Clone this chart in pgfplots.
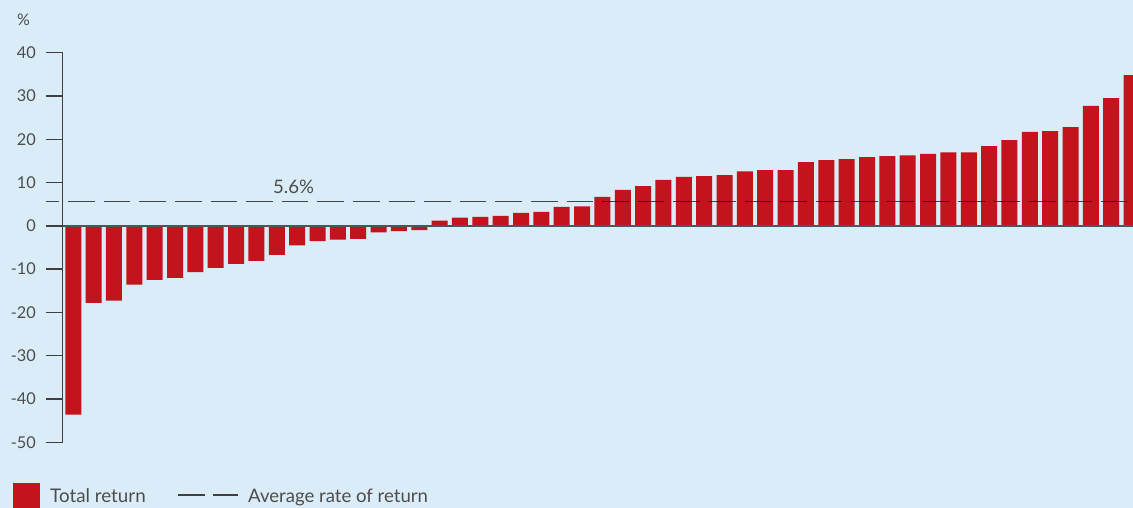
\documentclass[border=0pt]{standalone}
\usepackage{pgfplots}
\pgfplotsset{compat=1.18}
\usepackage{fontspec}
\setmainfont{Lato}
\definecolor{bg}{HTML}{D9ECF7}
\definecolor{barred}{HTML}{C3131C}
\definecolor{axgray}{HTML}{3F3F3F}
\definecolor{zerogray}{HTML}{4E555B}
\definecolor{txt}{HTML}{4D4D4D}
\begin{document}
\begin{tikzpicture}
\fill[bg] (0pt,0pt) rectangle (1133pt,508pt);
\begin{axis}[
 at={(62.7pt,65.7pt)}, anchor=south west,
 scale only axis, width=1070.3pt, height=389.6pt,
 xmin=-0.52, xmax=52.07, ymin=-50, ymax=40,
 axis x line=none,
 axis y line*=left,
 y axis line style={-, draw=axgray, line width=1.4pt},
 ytick={-50,-40,-30,-20,-10,0,10,20,30,40},
 yticklabels={-50,-40,-30,-20,-10,0,10,20,30,40},
 major tick length=16.7pt,
 tick align=outside,
 ytick style={draw=axgray, line width=1.4pt},
 yticklabel style={font=\fontsize{16.3}{16.3}\selectfont, text=txt, inner sep=0pt, xshift=-10pt},
 extra y ticks={5.6},
 extra y tick labels={},
 extra y tick style={ytick style={draw=black, draw opacity=0.7, line width=1.5pt, dash pattern=on 13.3pt off 3.4pt}},
]
\addplot[ybar, bar width=16pt, bar shift=0pt, fill=barred, draw=none] coordinates {
(0,-43.6) (1,-17.8) (2,-17.3) (3,-13.6) (4,-12.5) (5,-12.0) (6,-10.7) (7,-9.7) (8,-8.8) (9,-8.1)
(10,-6.7) (11,-4.5) (12,-3.5) (13,-3.2) (14,-3.0) (15,-1.5) (16,-1.2) (17,-1.0) (18,1.2) (19,1.9)
(20,2.1) (21,2.3) (22,3.0) (23,3.2) (24,4.4) (25,4.5) (26,6.7) (27,8.3) (28,9.2) (29,10.6)
(30,11.3) (31,11.5) (32,11.7) (33,12.6) (34,12.9) (35,12.9) (36,14.7) (37,15.2) (38,15.4) (39,15.9)
(40,16.1) (41,16.3) (42,16.6) (43,17.0) (44,17.0) (45,18.4) (46,19.8) (47,21.7) (48,21.9) (49,22.8)
(50,27.7) (51,29.5) (52,34.8)};
\addplot[zerogray, line width=1.8pt] coordinates {(-0.52,0) (52.07,0)};
\addplot[black, draw opacity=0.7, line width=1.5pt, dash pattern=on 26.6pt off 9pt, dash phase=30pt] coordinates {(-0.52,5.6) (52.07,5.6)};
\end{axis}
\node[anchor=base west, inner sep=0pt, text=txt, font=\fontsize{18.6}{18.6}\selectfont] at (273pt,314pt) {5.6\%};
\node[anchor=base west, inner sep=0pt, text=txt, font=\fontsize{16}{16}\selectfont] at (17pt,482pt) {\%};
% legend
\fill[barred] (13pt,0pt) rectangle (40pt,25.3pt);
\node[anchor=base west, inner sep=0pt, text=txt, font=\fontsize{18.8}{18.8}\selectfont] at (50pt,5pt) {Total return};
\draw[axgray, line width=1.3pt] (178pt,13pt) -- (205pt,13pt);
\draw[axgray, line width=1.3pt] (213pt,13pt) -- (238pt,13pt);
\node[anchor=base west, inner sep=0pt, text=txt, font=\fontsize{18.6}{18.6}\selectfont] at (248pt,5pt) {Average rate of return};
\end{tikzpicture}
\end{document}
